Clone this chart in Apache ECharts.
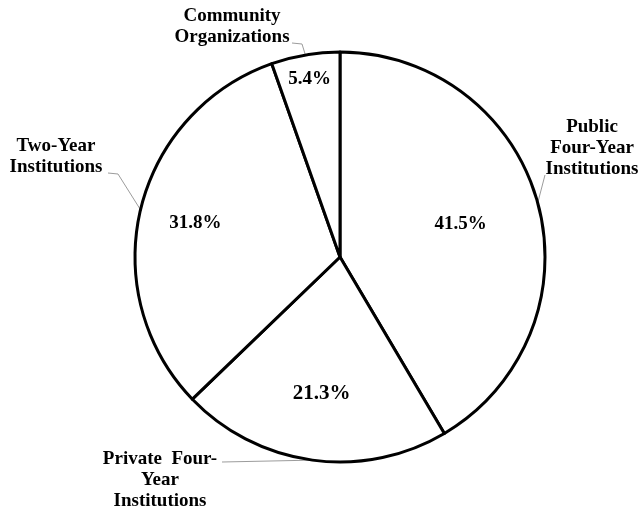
<!DOCTYPE html>
<html>
<head>
<meta charset="utf-8">
<script src="https://cdn.jsdelivr.net/npm/echarts@6/dist/echarts.min.js"></script>
<style>
  html, body { margin: 0; padding: 0; background: #fff; }
  #chart { width: 639px; height: 510px; }
</style>
</head>
<body>
<div id="chart"></div>
<script>
// Share of programs by institution type (percent), clockwise from 12 o'clock
const categories = [
  'Public\nFour-Year\nInstitutions',
  'Private  Four-\nYear\nInstitutions',
  'Two-Year\nInstitutions',
  'Community\nOrganizations'
];
const shares = [41.5, 21.3, 31.8, 5.4];

// Geometry of the pie (px)
const CX = 340, CY = 257, R = 205;

// Percent labels sit on each slice's bisector at these fractions of the radius
const pctRadius = [0.61, 0.67, 0.725, 0.88];
const pctFontSize = [19, 21, 19, 19];

// Centres of the category captions, and the bends/ends of their leader lines
const nameBoxes = [[592, 148], [160, 480], [56, 157], [232, 27]];
const leaderTails = [
  [[545, 175]],
  [[222, 462]],
  [[118, 174], [108, 173]],
  [[302, 44], [292, 43]]
];

const FONT = '"Liberation Serif", "Times New Roman", serif';
const total = shares.reduce((a, b) => a + b, 0);

// Bisector angle of slice i, radians clockwise from 12 o'clock
function midAngle(i) {
  let s = 0;
  for (let k = 0; k < i; k++) s += shares[k];
  return (s + shares[i] / 2) / total * 2 * Math.PI;
}
function polar(theta, rho) {
  return [CX + rho * Math.sin(theta), CY - rho * Math.cos(theta)];
}

const chart = echarts.init(document.getElementById('chart'), null, { renderer: 'canvas' });

chart.setOption({
  backgroundColor: '#fff',
  animation: false,
  series: [
    {
      type: 'pie',
      center: [CX, CY],
      radius: R,
      startAngle: 90,
      clockwise: true,
      silent: true,
      avoidLabelOverlap: false,
      data: categories.map((n, i) => ({ name: n, value: shares[i] })),
      itemStyle: { color: '#fff', borderColor: '#000', borderWidth: 3, borderJoin: 'round' },
      label: {
        show: true,
        position: 'outside',
        formatter: '{b}',
        fontFamily: FONT,
        fontWeight: 'bold',
        fontSize: 19,
        lineHeight: 21,
        color: '#000'
      },
      labelLine: { show: true, lineStyle: { color: '#9c9c9c', width: 1 } },
      labelLayout: p => {
        const i = p.dataIndex;
        return {
          x: nameBoxes[i][0],
          y: nameBoxes[i][1],
          align: 'center',
          verticalAlign: 'middle',
          labelLinePoints: [polar(midAngle(i), R)].concat(leaderTails[i])
        };
      },
      emphasis: { disabled: true }
    },
    {
      type: 'pie',
      center: [CX, CY],
      radius: R,
      startAngle: 90,
      clockwise: true,
      silent: true,
      avoidLabelOverlap: false,
      data: shares.map((v, i) => ({
        name: categories[i],
        value: v,
        label: { fontSize: pctFontSize[i] }
      })),
      itemStyle: { color: 'rgba(0,0,0,0)', borderWidth: 0 },
      label: {
        show: true,
        position: 'inside',
        formatter: p => p.value.toFixed(1) + '%',
        fontFamily: FONT,
        fontWeight: 'bold',
        color: '#000'
      },
      labelLine: { show: false },
      labelLayout: p => {
        const i = p.dataIndex;
        const pt = polar(midAngle(i), R * pctRadius[i]);
        return { x: pt[0], y: pt[1], align: 'center', verticalAlign: 'middle' };
      },
      emphasis: { disabled: true }
    }
  ]
});
</script>
</body>
</html>
